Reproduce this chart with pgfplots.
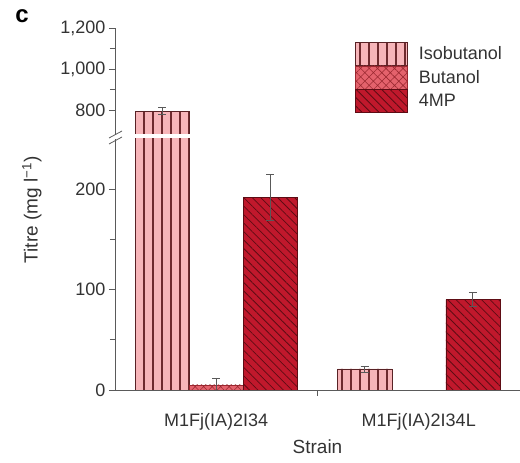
\documentclass[border=0pt]{standalone}
\usepackage{fontspec}
\setmainfont{Liberation Sans}
\usepackage{pgfplots}
\pgfplotsset{compat=1.18}
\usetikzlibrary{patterns.meta}
\definecolor{isoF}{HTML}{F7B5B9}
\definecolor{isoL}{HTML}{6E2A2E}
\definecolor{butF}{HTML}{E4626C}
\definecolor{butL}{HTML}{9A2830}
\definecolor{mpF}{HTML}{C0182C}
\definecolor{mpL}{HTML}{5E0C14}
\definecolor{axc}{HTML}{5A5A5A}
\definecolor{txt}{HTML}{333333}
\pgfplotsset{
  common/.style={
    scale only axis, width=405pt, xmin=-0.5, xmax=1.5,
    ybar=0pt, bar width=54pt,
    axis line style={axc, line width=0.8pt, -},
    tick style={axc, line width=0.8pt},
    tick align=outside, major tick length=6pt, minor tick length=5pt,
    ticklabel style={font=\fontsize{18}{20}\selectfont, text=txt},
    /pgf/number format/assume math mode=true,
    /pgf/number format/1000 sep={,},
    error bars/error bar style={line width=0.8pt, draw=black!65},
    error bars/error mark options={line width=0.8pt, draw=black!65, mark size=4pt, rotate=90},
  },
  iso/.style={draw=isoL!80!black, line width=0.5pt, fill=isoF, postaction={pattern={Lines[angle=90,distance=9pt,line width=1.1pt]}, pattern color=isoL}},
  but/.style={draw=butL, line width=0.5pt, fill=butF, postaction={pattern={Hatch[angle=45,distance=6pt,line width=0.6pt]}, pattern color=butL}},
  mp/.style={draw=mpL, line width=0.5pt, fill=mpF, postaction={pattern={Lines[angle=-45,distance=6pt,line width=0.8pt]}, pattern color=mpL}},
}
\begin{document}
\begin{tikzpicture}
\useasboundingbox (-115pt,-73pt) rectangle (405pt,390pt);
% lower axis
\begin{axis}[common, at={(0pt,0pt)}, anchor=south west, height=251pt,
  ymin=0, ymax=250, ytick={0,100,200}, minor ytick={50,150},
  axis y line*=left, axis x line*=bottom,
  xtick={0.5,1.5}, xticklabels={},
  extra x ticks={0,1}, extra x tick labels={M1Fj(IA)2I34, M1Fj(IA)2I34L},
  extra x tick style={major tick length=0pt, tick label style={yshift=-20pt}},
  xlabel={Strain}, xlabel style={font=\fontsize{19}{21}\selectfont, text=txt,
    at={(axis description cs:0.5,0)}, anchor=center, yshift=-57pt},
]
\addplot[iso, error bars/.cd, y dir=both, y explicit] coordinates {(0,795) +- (0,18) (1,21) +- (0,3)};
\addplot[but, error bars/.cd, y dir=both, y explicit] coordinates {(0,5) +- (0,7)};
\addplot[mp, error bars/.cd, y dir=both, y explicit] coordinates {(0,192) +- (0,23) (1,90) +- (0,7)};
\end{axis}
% upper axis
\begin{axis}[common, at={(0pt,256pt)}, anchor=south west, height=106pt,
  ymin=683, ymax=1200, ytick={800,1000,1200}, minor ytick={900,1100},
  axis y line*=left, axis x line=none, xtick=\empty,
  legend image code/.code={\draw[#1] (0pt,-11.5pt) rectangle (52pt,11.5pt);},
  legend style={at={(axis description cs:0.593,0.868)}, anchor=north west, draw=none, fill=none,
    font=\fontsize{18}{20}\selectfont, text=txt, row sep=0pt, inner sep=0pt,
    nodes={inner sep=0pt}, cells={anchor=west}},
]
\addplot[iso, bar shift=-54pt, error bars/.cd, y dir=both, y explicit] coordinates {(0,795) +- (0,18)};
\addlegendentry{\hspace{11pt}Isobutanol}
\addlegendimage{but}
\addlegendentry{\hspace{11pt}Butanol}
\addlegendimage{mp}
\addlegendentry{\hspace{11pt}4MP}
\end{axis}
% axis break marks
\draw[axc, line width=0.8pt] (-6pt,246pt) -- (7pt,253pt);
\draw[axc, line width=0.8pt] (-6pt,252pt) -- (7pt,259pt);
\node[rotate=90, font=\fontsize{19}{21}\selectfont, text=txt] at (-83pt,180pt) {Titre (mg l\textsuperscript{−1})};
\node[font=\fontsize{24}{26}\selectfont\bfseries, text=black] at (-93pt,374pt) {c};
\end{tikzpicture}
\end{document}
